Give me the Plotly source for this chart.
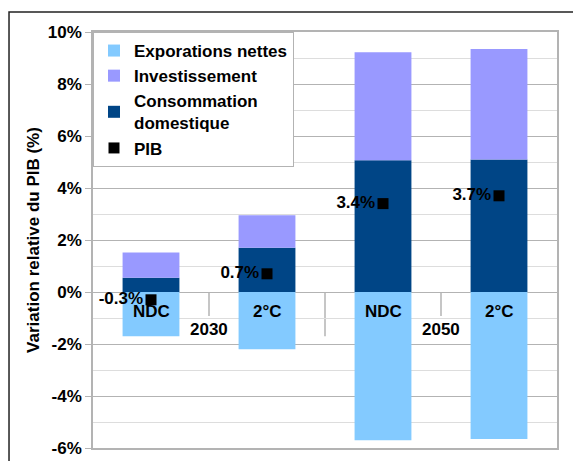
import plotly.graph_objects as go

categories = ["NDC|2030", "2°C|2030", "NDC|2050", "2°C|2050"]
scenario_labels = ["NDC", "2°C", "NDC", "2°C"]
years = ["2030", "2050"]
exportations = [-1.7, -2.2, -5.7, -5.65]
consommation = [0.55, 1.7, 5.07, 5.1]
investissement = [0.97, 1.25, 4.15, 4.25]
pib = [-0.3, 0.7, 3.4, 3.7]
pib_labels = ["-0.3%", "0.7%", "3.4%", "3.7%"]
ytick_vals = [-6, -4, -2, 0, 2, 4, 6, 8, 10]
ytick_text = ["-6%", "-4%", "-2%", "0%", "2%", "4%", "6%", "8%", "10%"]

FONT = "Liberation Sans, Arial, sans-serif"
C_EXP = "#83CAFF"
C_INV = "#9999FF"
C_CONS = "#004586"
GRID = "#b3b3b3"

fig = go.Figure()
fig.add_trace(go.Bar(x=categories, y=exportations, name="Exporations nettes",
                     marker=dict(color=C_EXP, line=dict(width=0)), legendrank=1))
fig.add_trace(go.Bar(x=categories, y=consommation, name="Consommation<br>domestique",
                     marker=dict(color=C_CONS, line=dict(width=0)), legendrank=3))
fig.add_trace(go.Bar(x=categories, y=investissement, name="Investissement",
                     marker=dict(color=C_INV, line=dict(width=0)), legendrank=2))
fig.add_trace(go.Scatter(x=categories, y=pib, name="PIB", mode="markers+text",
                         text=pib_labels, textposition="middle left",
                         textfont=dict(family=FONT, size=17, color="black", weight="bold"),
                         marker=dict(symbol="square", size=11, color="black"),
                         legendrank=4))

# category labels (inner level) and year labels (outer level)
for i, lab in enumerate(scenario_labels):
    fig.add_annotation(x=i, y=0, yref="y", xref="x", text=lab, showarrow=False,
                       yanchor="middle", yshift=-19,
                       font=dict(family=FONT, size=17, color="black", weight="bold"))
for j, yr in enumerate(years):
    fig.add_annotation(x=2 * j + 0.5, y=0, yref="y", xref="x", text=yr, showarrow=False,
                       yanchor="middle", yshift=-37,
                       font=dict(family=FONT, size=17, color="black", weight="bold"))

# separators of the category axis
for xs, ylen in [(0.5, -0.92), (2.5, -0.92), (1.5, -1.7)]:
    fig.add_shape(type="line", xref="x", yref="y", x0=xs, x1=xs, y0=0, y1=ylen,
                  line=dict(color=GRID, width=1.5), layer="below")

# outer chart frame
fig.add_shape(type="rect", xref="paper", yref="paper", x0=-0.181, x1=1.3,
              y0=-0.3, y1=1.048, line=dict(color="#222222", width=1.5))

# the page body adds an 8px margin, so the figure is 8px smaller than the window
fig.update_layout(
    width=573, height=453,
    margin=dict(l=85, r=24, t=24, b=13, autoexpand=False),
    paper_bgcolor="white", plot_bgcolor="white",
    barmode="relative", bargap=0.51,
    font=dict(family=FONT, size=17, color="black", weight="bold"),
    showlegend=True,
    legend=dict(x=0, y=1, xanchor="left", yanchor="top",
                bgcolor="white", bordercolor=GRID, borderwidth=1,
                font=dict(family=FONT, size=17, color="black", weight="bold"),
                itemwidth=30, tracegroupgap=0),
    xaxis=dict(type="category", showticklabels=False, ticks="", showgrid=False,
               showline=True, linecolor=GRID, linewidth=1.5, mirror=True,
               zeroline=False, range=[-0.5, 3.5], automargin=False),
    yaxis=dict(range=[-6, 10], tickmode="array", tickvals=ytick_vals, ticktext=ytick_text,
               showgrid=True, gridcolor=GRID, gridwidth=1.2,
               minor=dict(dtick=1, tick0=0, showgrid=True, gridcolor="#dddddd", gridwidth=1),
               ticks="outside", ticklen=6, tickcolor=GRID,
               showline=True, linecolor=GRID, linewidth=1.5, mirror=True,
               zeroline=False, automargin=False,
               title=dict(text="Variation relative du PIB (%)", standoff=4,
                          font=dict(family=FONT, size=17, color="black", weight="bold"))),
)

fig.write_html("out.html")
